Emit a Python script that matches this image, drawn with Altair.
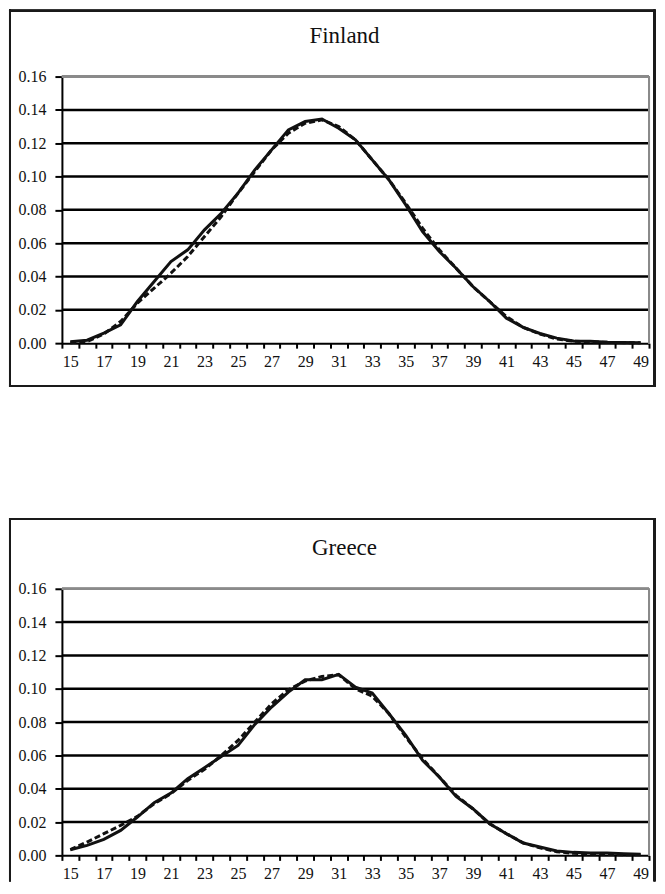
import altair as alt
import pandas as pd

ages = list(range(15, 50))

fin_solid = [0.0008, 0.0018, 0.006, 0.011, 0.025, 0.037, 0.049, 0.056, 0.068, 0.078,
             0.090, 0.104, 0.116, 0.128, 0.133, 0.1345, 0.129, 0.122, 0.110, 0.098,
             0.083, 0.067, 0.055, 0.045, 0.034, 0.025, 0.015, 0.0095, 0.0058, 0.003,
             0.0013, 0.0012, 0.0006, 0.0004, 0.0003]
fin_dashed = [0.0003, 0.001, 0.0055, 0.013, 0.024, 0.033, 0.042, 0.052, 0.064, 0.076,
              0.090, 0.103, 0.116, 0.126, 0.132, 0.134, 0.130, 0.122, 0.110, 0.098,
              0.084, 0.069, 0.056, 0.045, 0.034, 0.025, 0.016, 0.0095, 0.0055, 0.0025,
              0.0012, 0.0008, 0.0005, 0.0003, 0.0002]

gre_solid = [0.0034, 0.006, 0.0096, 0.015, 0.023, 0.0316, 0.0374, 0.046, 0.0526, 0.0594,
             0.066, 0.0786, 0.089, 0.098, 0.1054, 0.1054, 0.1086, 0.101, 0.0974, 0.085,
             0.072, 0.057, 0.047, 0.0354, 0.028, 0.019, 0.013, 0.0074, 0.005, 0.0026,
             0.0018, 0.0014, 0.0014, 0.001, 0.0006]
gre_dashed = [0.0034, 0.008, 0.013, 0.018, 0.0234, 0.031, 0.037, 0.045, 0.0516, 0.060,
              0.069, 0.080, 0.091, 0.0994, 0.1046, 0.1074, 0.1084, 0.100, 0.0955, 0.085,
              0.071, 0.058, 0.047, 0.036, 0.028, 0.019, 0.013, 0.0075, 0.0045, 0.0022,
              0.0012, 0.0008, 0.0006, 0.0004, 0.0003]

titles = ["Finland", "Greece"]
y_ticks = [0.00, 0.02, 0.04, 0.06, 0.08, 0.10, 0.12, 0.14, 0.16]
grid_values = [0.02, 0.04, 0.06, 0.08, 0.10, 0.12, 0.14]
x_labels = [15, 17, 19, 21, 23, 25, 27, 29, 31, 33, 35, 37, 39, 41, 43, 45, 47, 49]

FONT = "Liberation Serif, DejaVu Serif, Noto Serif, serif"
W, H = 588, 267
BOX_L, BOX_R = -52, 593.5

label_expr = "indexof([" + ",".join(str(v) for v in x_labels) + "], datum.value) >= 0 ? datum.label : ''"

x_enc = alt.X(
    "age:O",
    scale=alt.Scale(domain=ages, paddingInner=0, paddingOuter=0),
    axis=alt.Axis(
        title=None, labelAngle=0, labelExpr=label_expr, tickBand="extent",
        domainColor="black", domainWidth=2, tickColor="black", tickWidth=2,
        tickSize=5, labelPadding=5, labelFont=FONT, labelFontSize=16,
        labelColor="#111", grid=False,
    ),
)
y_enc = alt.Y(
    "value:Q",
    scale=alt.Scale(domain=[0, 0.16], nice=False, zero=True),
    axis=alt.Axis(
        title=None, values=y_ticks, format=".2f", grid=False,
        domainColor="black", domainWidth=2, tickColor="black", tickWidth=2,
        tickSize=7, labelPadding=9, labelFont=FONT, labelFontSize=16,
        labelColor="#111",
    ),
)


def panel(name, solid, dashed, box_top, box_bottom, draw_bottom):
    df_s = pd.DataFrame({"age": ages, "value": solid})
    df_d = pd.DataFrame({"age": ages, "value": dashed})
    df_g = pd.DataFrame({"value": grid_values})

    grid = alt.Chart(df_g).mark_rule(color="black", strokeWidth=2.5).encode(y=y_enc)
    top_border = alt.Chart(df_g).mark_rule(color="#8a8a8a", strokeWidth=2).encode(
        x=alt.value(0), x2=alt.value(W), y=alt.value(0))
    right_border = alt.Chart(df_g).mark_rule(color="#8a8a8a", strokeWidth=2).encode(
        x=alt.value(W), y=alt.value(0), y2=alt.value(H))

    dashed_line = alt.Chart(df_d).mark_line(
        color="#111", strokeWidth=3, strokeDash=[6, 3]).encode(x=x_enc, y=y_enc)
    solid_line = alt.Chart(df_s).mark_line(
        color="#111", strokeWidth=3).encode(x=x_enc, y=y_enc)

    title = alt.Chart(pd.DataFrame({"t": [name]})).mark_text(
        font=FONT, fontSize=23, color="#111", align="center", baseline="alphabetic"
    ).encode(text="t:N", x=alt.value(283), y=alt.value(-34))

    box_style = dict(color="#1a1a1a", strokeWidth=2, strokeCap="square")
    box_left = alt.Chart(df_g).mark_rule(**box_style).encode(
        x=alt.value(BOX_L), y=alt.value(box_top), y2=alt.value(box_bottom))
    box_right = alt.Chart(df_g).mark_rule(**box_style).encode(
        x=alt.value(BOX_R), y=alt.value(box_top), y2=alt.value(box_bottom))
    box_top_r = alt.Chart(df_g).mark_rule(**box_style).encode(
        x=alt.value(BOX_L), x2=alt.value(BOX_R), y=alt.value(box_top))
    layers = [box_left, box_right, box_top_r]
    if draw_bottom:
        layers.append(alt.Chart(df_g).mark_rule(**box_style).encode(
            x=alt.value(BOX_L), x2=alt.value(BOX_R), y=alt.value(box_bottom)))
    layers += [grid, top_border, right_border, dashed_line, solid_line, title]
    return alt.layer(*layers).properties(width=W, height=H)


fin = panel(titles[0], fin_solid, fin_dashed, -66, 310, True)
gre = panel(titles[1], gre_solid, gre_dashed, -70, 292, False)

chart = alt.vconcat(fin, gre, spacing=129).properties(
    padding=0, background="white"
).configure_view(stroke="transparent")

chart.save("out.html", embed_options={"renderer": "svg", "actions": False})
